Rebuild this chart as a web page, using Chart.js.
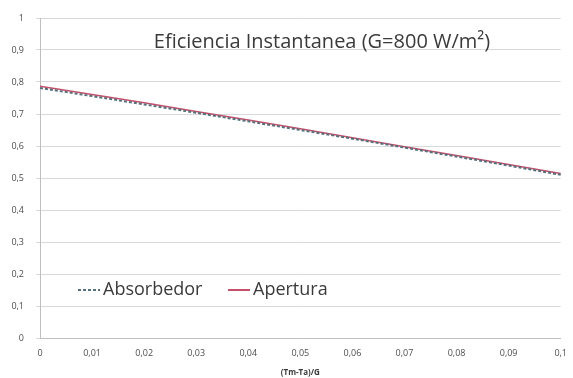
<!DOCTYPE html>
<html>
<head>
<meta charset="utf-8">
<script src="https://cdn.jsdelivr.net/npm/chart.js@4/dist/chart.umd.min.js"></script>
<style>
  html, body { margin: 0; padding: 0; background: #fff; }
  #wrap { width: 573px; height: 378px; }
</style>
</head>
<body>
<div id="wrap"><canvas id="chart" width="573" height="378"></canvas></div>
<script>
// (Tm-Ta)/G categories
const xLabels = ["0", "0,01", "0,02", "0,03", "0,04", "0,05", "0,06", "0,07", "0,08", "0,09", "0,1"];
const absorbedor = [0.781, 0.756, 0.730, 0.704, 0.677, 0.650, 0.623, 0.595, 0.567, 0.539, 0.510];
const apertura   = [0.787, 0.761, 0.735, 0.708, 0.681, 0.654, 0.626, 0.598, 0.570, 0.542, 0.514];
const chartTitle = "Eficiencia Instantanea (G=800 W/m\u00B2)";
const axisTitle = "(Tm-Ta)/G";

const FONT = "'Open Sans', 'Liberation Sans', sans-serif";

// title + legend drawn inside the plot area
const insidePlugin = {
  id: "inside",
  afterDraw(chart) {
    const ctx = chart.ctx;
    ctx.save();
    ctx.fillStyle = "#3a3a3a";
    ctx.font = "20px " + FONT;
    ctx.textBaseline = "middle";
    ctx.textAlign = "center";
    ctx.fillText(chartTitle, 322, 42);

    // legend
    const ds = chart.data.datasets;
    const ly = 290;
    let x = 78;
    ctx.textAlign = "left";
    ctx.font = "18px " + FONT;
    ds.forEach((d) => {
      ctx.beginPath();
      ctx.strokeStyle = d.borderColor;
      ctx.lineWidth = 2;
      ctx.setLineDash(d.borderDash || []);
      ctx.moveTo(x, ly);
      ctx.lineTo(x + 22, ly);
      ctx.stroke();
      ctx.setLineDash([]);
      ctx.fillStyle = "#3a3a3a";
      ctx.fillText(d.label, x + 25, ly);
      x = 228;
    });
    ctx.restore();
  }
};

new Chart(document.getElementById("chart"), {
  type: "line",
  data: {
    labels: xLabels,
    datasets: [
      {
        label: "Absorbedor",
        data: absorbedor,
        borderColor: "#55707c",
        borderWidth: 2,
        borderDash: [3, 2],
        pointRadius: 0,
        tension: 0
      },
      {
        label: "Apertura",
        data: apertura,
        borderColor: "#c4506a",
        borderWidth: 1.5,
        pointRadius: 0,
        tension: 0
      }
    ]
  },
  options: {
    responsive: false,
    animation: false,
    layout: { padding: { top: 18, right: 10, left: 0, bottom: 0 } },
    plugins: {
      legend: { display: false },
      tooltip: { enabled: false },
      title: { display: false }
    },
    scales: {
      x: {
        offset: false,
        grid: { display: false, drawTicks: true, tickLength: 4, color: "#bfbfbf" },
        border: { color: "#bfbfbf", width: 1 },
        ticks: { color: "#4d4d4d", font: { size: 9, family: FONT }, padding: 6, maxRotation: 0, autoSkip: false },
        title: { display: true, text: axisTitle, color: "#3a3a3a", font: { size: 8, weight: "bold", family: FONT }, padding: { top: 4, bottom: 0 } },
        afterFit(scale) { scale.height = 40; }
      },
      y: {
        min: 0,
        max: 1,
        grid: { color: "#d9d9d9", lineWidth: 1, drawTicks: true, tickLength: 4 },
        border: { color: "#bfbfbf", width: 1 },
        ticks: {
          stepSize: 0.1,
          color: "#4d4d4d",
          font: { size: 9, family: FONT },
          padding: 12,
          callback: (v) => (Math.round(v * 10) / 10).toString().replace(".", ",")
        },
        afterFit(scale) { scale.width = 40; }
      }
    }
  },
  plugins: [insidePlugin]
});
</script>
</body>
</html>
